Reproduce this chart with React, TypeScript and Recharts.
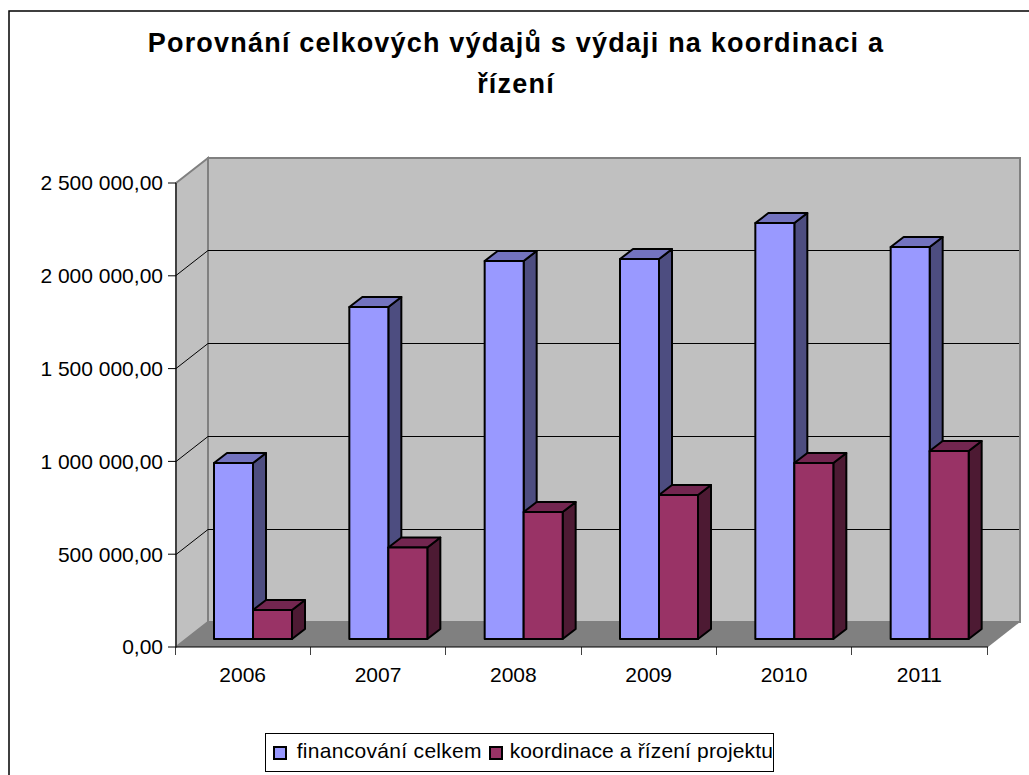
import React from 'react';
import { BarChart, Bar, XAxis, YAxis, Legend, usePlotArea } from 'recharts';

const years = ['2006', '2007', '2008', '2009', '2010', '2011'];
const financovani = [948000, 1789000, 2037000, 2047000, 2241000, 2112000];
const koordinace = [156000, 493000, 684000, 776000, 948000, 1013000];
const yTicks = [0, 500000, 1000000, 1500000, 2000000, 2500000];
const titleLines = ['Porovnání celkových výdajů s výdaji na koordinaci a', 'řízení'];

const data = years.map((year, i) => ({ year, financovani: financovani[i], koordinace: koordinace[i] }));

const FONT = '"Liberation Sans", Arial, sans-serif';
const WALL_DX = 32;
const WALL_DY = 25;
const BAR_DX = 9;
const BAR_DY = 8;
const DEPTH_X = 13;
const DEPTH_Y = 10;

const formatTick = (v: number) => {
    const whole = String(v).replace(/\B(?=(\d{3})+$)/g, ' ');
    return `${whole},00`;
};

// back wall, side wall and floor, the grid lines sit on the walls
const Walls = () => {
    const area = usePlotArea();
    if (!area) return null;
    const { x, y, width, height } = area;
    const bottom = y + height;
    const right = x + width;
    const yOf = (v: number) => Math.floor(bottom - (v / 2500000) * height) + 0.5;
    return (
        <g>
            <rect x={9} y={11} width={1060} height={800} fill="#fff" stroke="#000" strokeWidth={1.5} />
            <polygon
                points={`${x},${y} ${x + WALL_DX},${y - WALL_DY} ${x + WALL_DX},${bottom - WALL_DY} ${x},${bottom}`}
                fill="#c0c0c0" stroke="#808080" strokeWidth={2}
            />
            <rect x={x + WALL_DX} y={y - WALL_DY} width={width} height={height} fill="#c0c0c0" stroke="#808080" strokeWidth={2} />
            <polygon
                points={`${x},${bottom} ${x + WALL_DX},${bottom - WALL_DY} ${right + WALL_DX},${bottom - WALL_DY} ${right},${bottom}`}
                fill="#808080"
            />
            {yTicks.filter(t => t > 0 && t < 2500000).map(t => (
                <g key={t} stroke="#000" strokeWidth={1}>
                    <line x1={x} y1={yOf(t)} x2={x + WALL_DX} y2={yOf(t) - WALL_DY} />
                    <line x1={x + WALL_DX} y1={yOf(t) - WALL_DY} x2={right + WALL_DX - 1} y2={yOf(t) - WALL_DY} />
                </g>
            ))}
            {/* category ticks sit between the bands, not at their centres */}
            {[...years, ''].map((_, i) => {
                const tx = Math.floor(x + (i * width) / years.length) - 0.5;
                return <line key={i} x1={tx} y1={bottom} x2={tx} y2={bottom + 8} stroke="#404040" strokeWidth={1} />;
            })}
            {titleLines.map((line, i) => (
                <text
                    key={line} x={516} y={52 + i * 41} textAnchor="middle"
                    fontFamily={FONT} fontSize={27} fontWeight={700} letterSpacing={1.2} fill="#000"
                >
                    {line}
                </text>
            ))}
        </g>
    );
};

const Bar3D = (props: any) => {
    const { x, y, width, height, front, side, top } = props;
    const l = x + BAR_DX;
    const r = l + width;
    const t = y - BAR_DY;
    const b = t + height;
    return (
        <g stroke="#000" strokeWidth={2} strokeLinejoin="round">
            <polygon points={`${r},${t} ${r + DEPTH_X},${t - DEPTH_Y} ${r + DEPTH_X},${b - DEPTH_Y} ${r},${b}`} fill={side} />
            <polygon points={`${l},${t} ${l + DEPTH_X},${t - DEPTH_Y} ${r + DEPTH_X},${t - DEPTH_Y} ${r},${t}`} fill={top} />
            <rect x={l} y={t} width={width} height={height} fill={front} />
        </g>
    );
};

const LegendBox = () => (
    <div style={{
        display: 'flex', alignItems: 'center', boxSizing: 'border-box', width: 509, height: 39,
        border: '1px solid #000', background: '#fff', paddingLeft: 7, paddingBottom: 4,
        fontFamily: FONT, fontSize: 21, color: '#000', whiteSpace: 'nowrap',
    }}>
        <span style={{ width: 10, height: 10, background: '#9999ff', border: '2px solid #000', marginRight: 7, marginTop: 4 }} />
        <span style={{ marginLeft: 3, marginRight: 7, letterSpacing: 0.3 }}>financování celkem</span>
        <span style={{ width: 10, height: 10, background: '#993366', border: '2px solid #000', marginRight: 7, marginTop: 4 }} />
        <span style={{ letterSpacing: 0.15 }}>koordinace a řízení projektu</span>
    </div>
);

export default function App() {
    const tick = { fill: '#000', fontSize: 21, fontFamily: FONT };
    return (
        <div style={{ position: 'absolute', left: 0, top: 0, width: 1029, height: 775, overflow: 'hidden', background: '#fff' }}>
            <BarChart
                width={1029} height={775} data={data}
                margin={{ top: 183, right: 41, left: 46, bottom: 88 }}
                barSize={39} barGap={0}
            >
                <Walls />
                <XAxis
                    dataKey="year" height={40} interval={0} tick={{ ...tick, dx: -1 }} tickLine={false} tickSize={8} tickMargin={12}
                    axisLine={{ stroke: '#000', strokeWidth: 1 }}
                />
                <YAxis
                    width={130} domain={[0, 2500000]} ticks={yTicks} tickFormatter={formatTick} tick={tick}
                    tickSize={8} tickMargin={5} axisLine={{ stroke: '#000', strokeWidth: 1 }} tickLine={{ stroke: '#000' }}
                />
                <Legend
                    layout="horizontal" verticalAlign="middle" align="center" content={<LegendBox />}
                    wrapperStyle={{ left: 265, top: 733, width: 509, height: 39 }}
                />
                <Bar
                    dataKey="financovani" name="financování celkem" isAnimationActive={false}
                    shape={(p: any) => <Bar3D {...p} front="#9999ff" side="#4d4d80" top="#7373bf" />}
                />
                <Bar
                    dataKey="koordinace" name="koordinace a řízení projektu" isAnimationActive={false}
                    shape={(p: any) => <Bar3D {...p} front="#993366" side="#4d1a33" top="#732650" />}
                />
            </BarChart>
        </div>
    );
}
